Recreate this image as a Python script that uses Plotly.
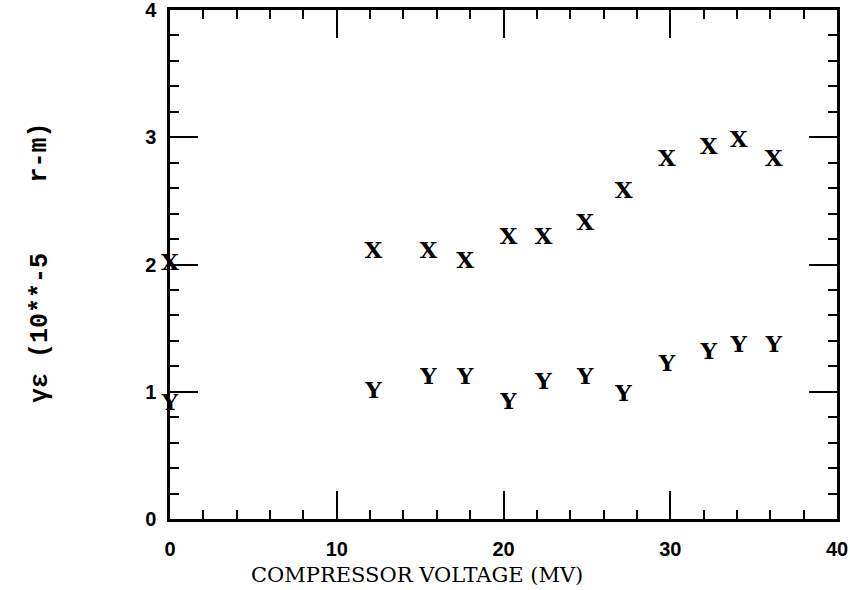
import plotly.graph_objects as go

# Data
voltage = [0.0, 12.2, 15.5, 17.7, 20.3, 22.4, 24.9, 27.2, 29.8, 32.3, 34.1, 36.2]
emit_x = [2.00, 2.10, 2.10, 2.02, 2.21, 2.21, 2.32, 2.57, 2.82, 2.91, 2.97, 2.82]
emit_y = [0.90, 1.00, 1.11, 1.11, 0.91, 1.07, 1.11, 0.97, 1.21, 1.30, 1.36, 1.36]
x_ticks = [0, 10, 20, 30, 40]
y_ticks = [0, 1, 2, 3, 4]
y_title_part1 = "γε (10**-5"
y_title_part2 = "r-m)"

marker_font = dict(family="DejaVu Serif", size=23, color="black", weight="bold")

fig = go.Figure()
fig.add_trace(go.Scatter(x=voltage, y=emit_x, mode="text", text=["X"] * len(voltage),
                         textposition="middle center", textfont=marker_font,
                         cliponaxis=False, showlegend=False, hoverinfo="skip"))
fig.add_trace(go.Scatter(x=voltage, y=emit_y, mode="text", text=["Y"] * len(voltage),
                         textposition="middle center", textfont=marker_font,
                         cliponaxis=False, showlegend=False, hoverinfo="skip"))

tick_font = dict(family="Liberation Sans", size=20, color="black", weight="bold")
common = dict(showgrid=False, zeroline=False, showline=True, linecolor="black",
              linewidth=2.5, mirror="allticks", ticks="inside", ticklen=28,
              tickwidth=2, tickcolor="black", tickfont=tick_font, automargin=False,
              ticklabeloverflow="allow")

fig.update_xaxes(range=[0, 40], tickvals=x_ticks, ticktext=[str(v) for v in x_ticks],
                 ticklabelstandoff=10,
                 minor=dict(dtick=2, ticks="inside", ticklen=9, tickwidth=2,
                            tickcolor="black", showgrid=False),
                 **common)
fig.update_yaxes(range=[0, 4], tickvals=y_ticks, ticktext=[str(v) for v in y_ticks],
                 ticklabelstandoff=7,
                 minor=dict(dtick=0.2, ticks="inside", ticklen=9, tickwidth=2,
                            tickcolor="black", showgrid=False),
                 **common)

fig.add_annotation(text="COMPRESSOR VOLTAGE (MV)", xref="paper", yref="paper",
                   x=0.37, y=-0.11, showarrow=False, xanchor="center", yanchor="middle",
                   font=dict(family="DejaVu Serif", size=21, color="black"))

ytitle_font = dict(family="Liberation Mono", size=25, color="black", weight="bold")
fig.add_annotation(text=y_title_part1, xref="paper", yref="paper",
                   x=-0.195, y=0.375, showarrow=False, textangle=-90,
                   xanchor="center", yanchor="middle", font=ytitle_font)
fig.add_annotation(text=y_title_part2, xref="paper", yref="paper",
                   x=-0.195, y=0.72, showarrow=False, textangle=-90,
                   xanchor="center", yanchor="middle", font=ytitle_font)

fig.update_layout(width=850, height=590, margin=dict(l=170, r=13, t=10, b=71),
                  plot_bgcolor="white", paper_bgcolor="white")

fig.write_html("out.html", config={"displayModeBar": False},
               post_script="document.body.style.margin='0px';")
